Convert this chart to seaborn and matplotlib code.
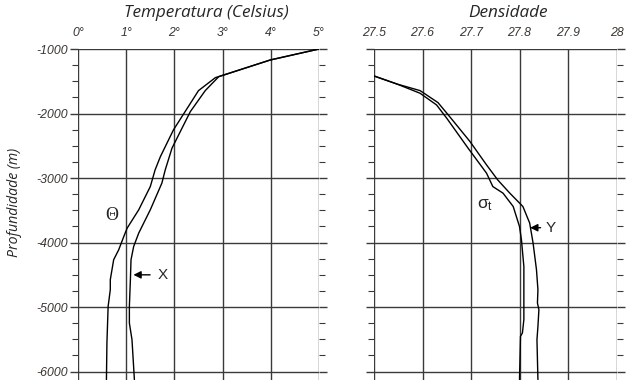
import numpy as np
import pandas as pd
import matplotlib
matplotlib.use("Agg")
import matplotlib.pyplot as plt
import seaborn as sns

# ---- data ----
theta_temp = [5.0, 3.99, 2.85, 2.50, 1.98, 1.71, 1.60, 1.50, 1.26, 1.02, 0.95, 0.845,
              0.74, 0.67, 0.67, 0.625, 0.60, 0.59]
theta_depth = [-1000, -1170, -1444, -1645, -2254, -2667, -2873, -3132, -3492, -3776, -3906,
               -4111, -4266, -4576, -4731, -4990, -5557, -6124]

insitu_temp = [5.0, 3.99, 2.92, 2.64, 2.33, 1.95, 1.81, 1.74, 1.50, 1.26, 1.155, 1.10,
               1.087, 1.066, 1.066, 1.12, 1.17]
insitu_depth = [-1000, -1170, -1429, -1645, -1971, -2537, -2873, -3079, -3492, -3853, -4060,
                -4266, -4576, -4989, -5248, -5505, -6124]

sigt_dens = [27.49, 27.50, 27.547, 27.595, 27.629, 27.650, 27.694, 27.732, 27.745, 27.766,
             27.787, 27.800, 27.804, 27.809, 27.809, 27.809, 27.806, 27.802, 27.800]
sigt_depth = [-1395, -1418, -1542, -1686, -1867, -2073, -2537, -2924, -3132, -3234,
              -3441, -3751, -3957, -4370, -4834, -5195, -5401, -5453, -6124]

y_dens = [27.49, 27.50, 27.547, 27.595, 27.632, 27.656, 27.698, 27.732, 27.755, 27.780,
          27.807, 27.821, 27.828, 27.835, 27.838, 27.837, 27.840, 27.838, 27.836, 27.838]
y_depth = [-1395, -1418, -1542, -1645, -1831, -2048, -2435, -2796, -3028, -3234,
           -3441, -3698, -4008, -4421, -4731, -4937, -5040, -5299, -5505, -6124]

temp_ticks = [0, 1, 2, 3, 4, 5]
temp_labels = ["0°", "1°", "2°", "3°", "4°", "5°"]
dens_ticks = [27.5, 27.6, 27.7, 27.8, 27.9, 28.0]
dens_labels = ["27.5", "27.6", "27.7", "27.8", "27.9", "28"]
depth_ticks = [-1000, -2000, -3000, -4000, -5000, -6000]

temp_df = pd.DataFrame({
    "value": theta_temp + insitu_temp,
    "depth": theta_depth + insitu_depth,
    "curve": ["theta"] * len(theta_temp) + ["X"] * len(insitu_temp),
})
dens_df = pd.DataFrame({
    "value": sigt_dens + y_dens,
    "depth": sigt_depth + y_depth,
    "curve": ["sigma_t"] * len(sigt_dens) + ["Y"] * len(y_dens),
})

sns.set_theme(style="white")
plt.rcParams["font.family"] = ["Liberation Sans", "DejaVu Sans"]

fig = plt.figure(figsize=(6.3, 3.84), dpi=100)
ax1 = fig.add_axes([78 / 630, 1 - 380 / 384, 241 / 630, 331 / 384])
ax2 = fig.add_axes([374 / 630, 1 - 380 / 384, 242.5 / 630, 331 / 384])

grid_col = "#3a3a3a"
lab_col = "#3b3430"

for ax, df, xlim, xt, xl in [(ax1, temp_df, (0, 5), temp_ticks, temp_labels),
                             (ax2, dens_df, (27.5, 28.0), dens_ticks, dens_labels)]:
    sns.lineplot(data=df, x="value", y="depth", hue="curve", units="curve",
                 estimator=None, sort=False, palette=["black", "black"],
                 legend=False, linewidth=1.0, ax=ax, zorder=3)
    ax.set_xlim(*xlim)
    ax.set_ylim(-6130, -1000)
    ax.set_xticks(xt)
    ax.set_xticklabels(xl, fontsize=8.8, style="italic", color=lab_col)
    ax.set_yticks(depth_ticks)
    ax.set_yticks(np.arange(-6000, -999, 250), minor=True)
    ax.xaxis.tick_top()
    ax.tick_params(axis="x", which="major", length=0, pad=7)
    ax.tick_params(axis="y", which="major", left=True, right=True, direction="out",
                   length=6, width=1.0, color=grid_col)
    ax.tick_params(axis="y", which="minor", left=True, right=True, direction="out",
                   length=4, width=0.8, color=grid_col)
    ax.grid(True, which="major", color=grid_col, linewidth=1.0)
    for s in ax.spines.values():
        s.set_visible(False)
    ax.set_xlabel("")
    ax.set_ylabel("")

ax1.set_yticklabels([str(v) for v in depth_ticks], fontsize=8.8, style="italic", color=lab_col)
ax1.tick_params(axis="y", which="major", pad=1)
ax2.set_yticklabels([])

fig.text(206 / 630, 1 - 13 / 384, "Temperatura (Celsius)", ha="center", va="center",
         fontsize=12.3, style="italic", family=["Open Sans", "DejaVu Sans"])
fig.text(508 / 630, 1 - 13 / 384, "Densidade", ha="center", va="center",
         fontsize=12.3, style="italic", family=["Open Sans", "DejaVu Sans"])
fig.text(15 / 630, 1 - 202 / 384, "Profundidade (m)", ha="center", va="center",
         rotation=90, fontsize=10.2, style="italic", family=["Open Sans", "DejaVu Sans"])

# annotations
ax1.text(0.7, -3580, "Θ", fontsize=13, family=["Liberation Serif", "DejaVu Serif"],
         ha="center", va="center")
ax1.annotate("X", xy=(1.15, -4500), xytext=(1.65, -4500), fontsize=11,
             ha="left", va="center",
             arrowprops=dict(arrowstyle="-|>,head_length=0.4,head_width=0.2",
                             color="black", lw=1.0, shrinkA=3, shrinkB=0))
ax2.text(27.73, -3420, r"$\mathregular{\sigma_t}$", fontsize=12.5, ha="center", va="center")
ax2.annotate("Y", xy=(27.822, -3770), xytext=(27.853, -3770), fontsize=11,
             ha="left", va="center",
             arrowprops=dict(arrowstyle="-|>,head_length=0.4,head_width=0.2",
                             color="black", lw=1.0, shrinkA=1, shrinkB=0))

fig.savefig("out.png", dpi=100)
